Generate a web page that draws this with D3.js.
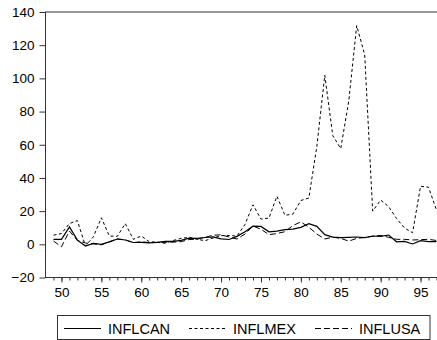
<!DOCTYPE html>
<html>
<head>
<meta charset="utf-8">
<script src="https://cdn.jsdelivr.net/npm/d3@7"></script>
<style>
	body { margin: 0; background: #fff; }
	svg { display: block; font-family: "Liberation Sans", Arial, sans-serif; }
	.axis text { font-size: 13.5px; fill: #000; }
	.legend text { font-size: 14.5px; fill: #000; }
</style>
</head>
<body>
<div class="chart__infl"><svg></svg></div>
<script>
// years 1949..1997 (two digit labels on the axis)
var years = d3.range(49, 98)

var inflCan = [3.0, 3.0, 10.5, 2.5, -1.0, 0.5, 0.0, 1.5, 3.2, 2.6,
	1.1, 1.2, 0.9, 1.2, 1.8, 1.8, 2.4, 3.7, 3.6, 4.1,
	4.5, 3.3, 2.9, 4.8, 7.6, 10.9, 10.8, 7.5, 8.0, 8.9,
	9.2, 10.2, 12.4, 10.8, 5.8, 4.3, 4.0, 4.2, 4.4, 4.0,
	5.0, 4.8, 5.6, 1.5, 1.8, 0.2, 2.2, 1.6, 1.6]

var inflMex = [5.5, 6.5, 12.5, 14.3, -1.0, 4.5, 16.0, 5.0, 4.8, 12.5,
	3.0, 5.0, 1.6, 1.2, 0.6, 2.3, 3.6, 4.2, 3.0, 2.2,
	3.8, 5.2, 5.3, 5.0, 12.0, 23.8, 15.2, 15.8, 29.0, 17.5,
	18.2, 26.4, 27.9, 58.9, 101.9, 65.5, 57.7, 86.2, 131.8, 114.2,
	20.0, 26.7, 22.7, 15.5, 9.8, 7.0, 35.0, 34.4, 20.6]

var inflUsa = [2.0, -1.5, 8.0, 2.3, 0.8, 0.3, -0.3, 1.5, 3.3, 2.7,
	1.0, 1.5, 1.1, 1.2, 1.2, 1.3, 1.6, 2.9, 3.1, 4.2,
	5.5, 5.7, 4.4, 3.2, 6.2, 11.0, 9.1, 5.8, 6.5, 7.6,
	11.3, 13.5, 10.3, 6.2, 3.2, 4.3, 3.6, 1.9, 3.6, 4.1,
	4.8, 5.4, 4.2, 3.0, 3.0, 2.6, 2.8, 3.0, 2.3]

var seriesNames = ['INFLCAN', 'INFLMEX', 'INFLUSA']
var yTicks = [-20, 0, 20, 40, 60, 80, 100, 120, 140]
var xMajorTicks = [50, 55, 60, 65, 70, 75, 80, 85, 90, 95]

;(function() {

	var svgWidth = 437
	var svgHeight = 340
	var margin = { top: 12, left: 45.5, bottom: 62 }
	var plotRight = 444.5 // frame runs past the right edge of the picture
	var svg = d3.select('.chart__infl svg')
		.attr('width', svgWidth)
		.attr('height', svgHeight)

	var scales = {}
	var dashes = ['none', '3,2.5', '6,3']
	var widths = [1.2, 1, 1]

	function setupScales() {
		scales.x = d3.scaleLinear().domain([48, 98]).range([margin.left, plotRight])
		scales.y = d3.scaleLinear().domain([-20, 140]).range([svgHeight - margin.bottom - 0.5, margin.top])
	}

	function drawFrame() {
		var x0 = scales.x.range()[0], x1 = scales.x.range()[1]
		var y0 = scales.y.range()[1], y1 = scales.y.range()[0]
		svg.append('rect')
			.attr('x', x0)
			.attr('y', y0)
			.attr('width', x1 - x0)
			.attr('height', y1 - y0)
			.attr('fill', 'none')
			.attr('stroke', '#333')
			.attr('stroke-width', 1)
	}

	function drawAxes() {
		var axisY = d3.axisLeft(scales.y)
			.tickValues(yTicks)
			.tickSize(6)
			.tickPadding(5)

		svg.append('g')
			.attr('class', 'axis axis--y')
			.attr('transform', 'translate(' + scales.x.range()[0] + ',0)')
			.call(axisY)

		var axisXMinor = d3.axisBottom(scales.x)
			.tickValues(d3.range(49, 98))
			.tickSize(3)
			.tickFormat('')

		var axisXMajor = d3.axisBottom(scales.x)
			.tickValues(xMajorTicks)
			.tickSize(5)
			.tickPadding(5)
			.tickFormat(d3.format('d'))

		svg.append('g')
			.attr('class', 'axis axis--x--minor')
			.attr('transform', 'translate(0,' + scales.y.range()[0] + ')')
			.call(axisXMinor)

		svg.append('g')
			.attr('class', 'axis axis--x')
			.attr('transform', 'translate(0,' + scales.y.range()[0] + ')')
			.call(axisXMajor)

		svg.selectAll('.axis .domain').remove()
		svg.selectAll('.axis line').attr('stroke', '#333')
	}

	function drawLines() {
		var data = [inflCan, inflMex, inflUsa]
		var line = d3.line()
			.x(function(d, i) { return scales.x(years[i]) })
			.y(function(d) { return scales.y(d) })

		svg.append('g')
			.attr('class', 'lines')
			.selectAll('path')
			.data(data)
			.enter()
			.append('path')
			.attr('d', line)
			.attr('fill', 'none')
			.attr('stroke', '#000')
			.attr('stroke-width', function(d, i) { return widths[i] })
			.attr('stroke-dasharray', function(d, i) { return dashes[i] })
	}

	function drawLegend() {
		var g = svg.append('g').attr('class', 'legend')
		g.append('rect')
			.attr('x', 57.5)
			.attr('y', 315.5)
			.attr('width', 372.5)
			.attr('height', 24)
			.attr('fill', 'none')
			.attr('stroke', '#333')

		var lineStarts = [64, 189, 315]
		var item = g.selectAll('.item')
			.data(seriesNames)
			.enter()
			.append('g')
			.attr('class', 'item')
			.attr('transform', function(d, i) { return 'translate(' + lineStarts[i] + ',0)' })

		item.append('line')
			.attr('x1', 0)
			.attr('x2', 37)
			.attr('y1', 328.5)
			.attr('y2', 328.5)
			.attr('stroke', '#000')
			.attr('stroke-width', function(d, i) { return widths[i] })
			.attr('stroke-dasharray', function(d, i) { return dashes[i] })

		item.append('text')
			.attr('x', 44)
			.attr('y', 334)
			.text(function(d) { return d })
	}

	function init() {
		setupScales()
		drawFrame()
		drawAxes()
		drawLines()
		drawLegend()
	}

	init()
})()
</script>
</body>
</html>
